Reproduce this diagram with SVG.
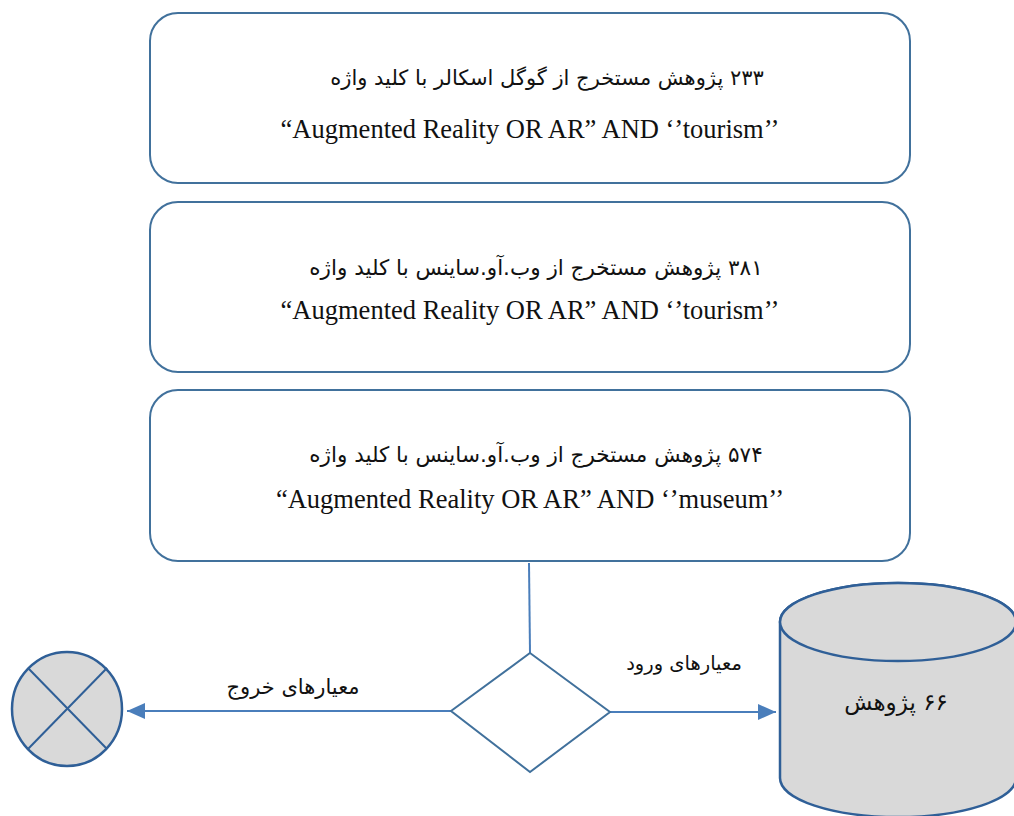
<svg xmlns="http://www.w3.org/2000/svg" width="1014" height="816" viewBox="0 0 1014 816">
<defs>
<style>
.box{fill:#ffffff;stroke:#41719C;stroke-width:2}
.fa{font-family:"DejaVu Sans","Noto Sans",sans-serif;fill:#111;direction:rtl;unicode-bidi:embed}
.en{font-family:"Liberation Serif","Times New Roman",serif;fill:#111;font-size:26.5px}
.conn{stroke:#4A7EBB;stroke-width:2;fill:none}
.gray{fill:#D9D9D9;stroke:#2F5F97;stroke-width:2.5}
</style>
<marker id="ah" markerUnits="userSpaceOnUse" markerWidth="20" markerHeight="18" refX="18" refY="8" orient="auto">
<path d="M0,0 L18,8 L0,16 Z" fill="#4A7EBB"/>
</marker>
</defs>
<rect width="1014" height="816" fill="#ffffff"/>

<g id="box1">
<rect class="box" x="150" y="13" width="760" height="170" rx="28"/>
<text class="fa" x="547" y="85" font-size="21" text-anchor="middle">۲۳۳ پژوهش مستخرج از گوگل اسکالر با کلید واژه</text>
<text class="en" x="530" y="138" text-anchor="middle">“Augmented Reality OR AR” AND ‘’tourism’’</text>
</g>

<g id="box2">
<rect class="box" x="150" y="202" width="760" height="170" rx="28"/>
<text class="fa" x="536" y="275" font-size="21.5" text-anchor="middle">۳۸۱ پژوهش مستخرج از وب.آو.ساینس با کلید واژه</text>
<text class="en" x="530" y="319" text-anchor="middle">“Augmented Reality OR AR” AND ‘’tourism’’</text>
</g>

<g id="box3">
<rect class="box" x="150" y="390" width="760" height="171" rx="28"/>
<text class="fa" x="536" y="462" font-size="21.5" text-anchor="middle">۵۷۴ پژوهش مستخرج از وب.آو.ساینس با کلید واژه</text>
<text class="en" x="530" y="508" text-anchor="middle">“Augmented Reality OR AR” AND ‘’museum’’</text>
</g>

<g id="connectors">
<line class="conn" x1="529" y1="563" x2="530" y2="653"/>
<line class="conn" x1="451" y1="711" x2="127" y2="711" marker-end="url(#ah)"/>
<line class="conn" x1="610" y1="712" x2="776" y2="712" marker-end="url(#ah)"/>
<text class="fa" x="293" y="694" font-size="21" text-anchor="middle">معیارهای خروج</text>
<text class="fa" x="684" y="670" font-size="19.5" text-anchor="middle">معیارهای ورود</text>
</g>

<g id="decision">
<polygon points="530,653 610,712 530,772 451,711" fill="#ffffff" stroke="#41719C" stroke-width="2"/>
</g>

<g id="exclude">
<ellipse class="gray" cx="67" cy="709" rx="55" ry="57" stroke="#41719C" stroke-width="2"/>
<line x1="28" y1="668" x2="107" y2="749" stroke="#2F5F97" stroke-width="2"/>
<line x1="107" y1="668" x2="28" y2="749" stroke="#2F5F97" stroke-width="2"/>
</g>

<g id="database">
<path class="gray" d="M780,622 L780,778 A118,39 0 0 0 1016,778 L1016,622 A118,39 0 0 0 780,622 Z"/>
<ellipse class="gray" cx="898" cy="622" rx="118" ry="39"/>
<text class="fa" x="896" y="710" font-size="23" text-anchor="middle">۶۶ پژوهش</text>
</g>
</svg>
